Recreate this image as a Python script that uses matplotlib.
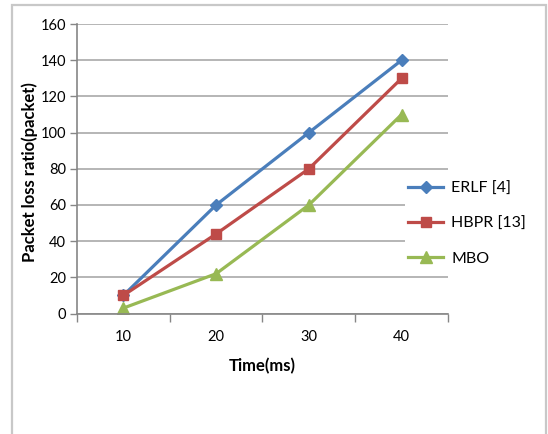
import matplotlib.pyplot as plt
from matplotlib.patches import Rectangle

# packet loss per time step for each scheme
time_labels = ['10', '20', '30', '40']
erlf = [10, 60, 100, 140]
hbpr = [10, 44, 80, 130]
mbo = [3, 22, 60, 110]
y_ticks = [0, 20, 40, 60, 80, 100, 120, 140, 160]

plt.rcParams['font.family'] = ['Lato', 'DejaVu Sans']

fig = plt.figure(figsize=(5.48, 4.34), dpi=100)
ax = fig.add_axes([0.1405, 0.2776, 0.677, 0.667])

pos = range(1, len(time_labels) + 1)
ax.plot(pos, erlf, color='#4A7EBB', lw=2.3, marker='D', ms=6, label='ERLF [4]')
ax.plot(pos, hbpr, color='#BE4B48', lw=2.3, marker='s', ms=7.5, label='HBPR [13]')
ax.plot(pos, mbo, color='#98B954', lw=2.3, marker='^', ms=8, label='MBO')

ax.set_xlim(0.5, len(time_labels) + 0.5)
ax.set_ylim(0, 160)
ax.set_yticks(y_ticks)

# category boundaries carry the tick marks, labels sit in the middle
ax.set_xticks([p - 0.5 for p in pos] + [len(time_labels) + 0.5])
ax.set_xticklabels([])
ax.set_xticks(list(pos), minor=True)
ax.set_xticklabels(time_labels, minor=True)
ax.tick_params(axis='x', which='major', length=6, color='#868686', width=1)
ax.tick_params(axis='x', which='minor', length=0, pad=12, labelsize=10.5)
ax.tick_params(axis='y', length=5, color='#868686', width=1, labelsize=10.5, pad=3)

ax.grid(axis='y', color='#B0B0B0', lw=1.3)
ax.set_axisbelow(True)
for side in ['top', 'right']:
    ax.spines[side].set_visible(False)
for side in ['left', 'bottom']:
    ax.spines[side].set_color('#868686')
    ax.spines[side].set_linewidth(1.2)

ax.set_xlabel('Time(ms)', fontsize=12, fontweight='bold')
ax.xaxis.set_label_coords(0.5, -0.155)
ax.set_ylabel('Packet loss ratio(packet)', fontsize=12, fontweight='bold')
ax.yaxis.set_label_coords(-0.105, 0.49)

leg = fig.legend(loc='center left', bbox_to_anchor=(0.739, 0.484), fontsize=11.5,
                 handlelength=2.2, handletextpad=0.5, labelspacing=1.3,
                 borderpad=0.2, borderaxespad=0, fancybox=False)
leg.get_frame().set_facecolor('white')
leg.get_frame().set_edgecolor('none')
leg.get_frame().set_alpha(1)

# outer chart border
fig.patches.append(Rectangle((12 / 548, -0.05), 534 / 548, 0.05 + 429 / 434,
                             transform=fig.transFigure, fill=False,
                             edgecolor='#C8C8C8', lw=1.6))

fig.savefig('out.png', dpi=100)
